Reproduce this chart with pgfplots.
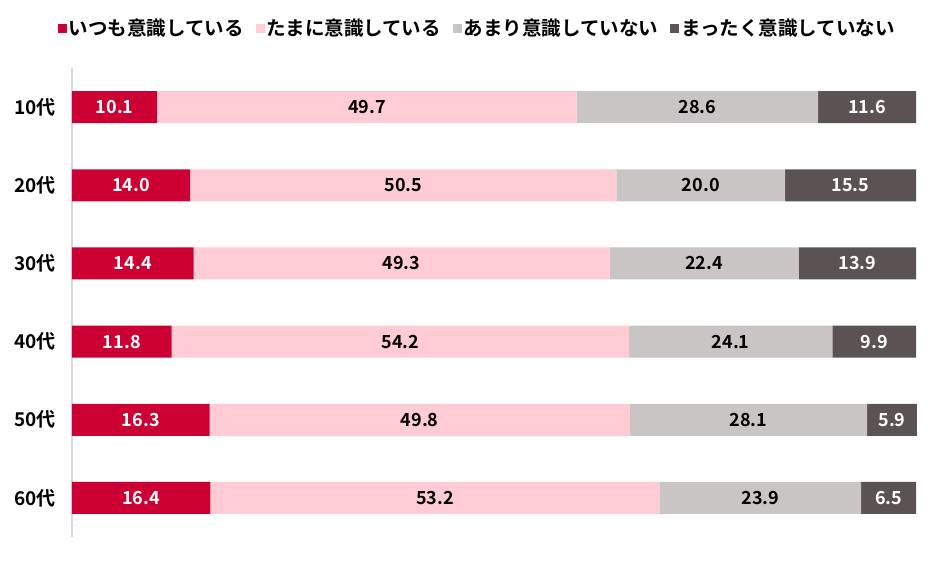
\documentclass[border=0pt]{standalone}
\usepackage{fontspec}
\setmainfont{Noto Sans CJK JP}[BoldFont={Noto Sans CJK JP Bold}]
\usepackage{pgfplots}
\usepackage{pgfplotstable}
\pgfplotsset{compat=1.18}
\definecolor{c1}{HTML}{CC0033}
\definecolor{c2}{HTML}{FFCCD5}
\definecolor{c3}{HTML}{C9C5C4}
\definecolor{c4}{HTML}{5B5353}
\definecolor{axgray}{HTML}{D9D9D9}
\pgfplotstableread{
age v1 v2 v3 v4
0 10.1 49.7 28.6 11.6
1 14.0 50.5 20.0 15.5
2 14.4 49.3 22.4 13.9
3 11.8 54.2 24.1 9.9
4 16.3 49.8 28.1 5.9
5 16.4 53.2 23.9 6.5
}\data
\begin{document}
\begin{tikzpicture}
\begin{axis}[
  at={(0,0)}, anchor=south west,
  scale only axis, width=844pt, height=469pt,
  xbar stacked, bar width=32pt,
  xmin=0, xmax=100, ymin=-0.5, ymax=5.5,
  y dir=reverse,
  axis x line=none,
  axis y line*=left,
  y axis line style={draw=axgray, line width=1.5pt},
  ytick={0,...,5},
  yticklabels={10代,20代,30代,40代,50代,60代},
  major tick length=0pt,
  yticklabel style={font=\fontsize{19}{21}\selectfont\bfseries, xshift=-13pt},
  clip=false,
  lbl/.style={nodes near coords={\pgfmathprintnumber[fixed,fixed zerofill,precision=1,assume math mode=true]{\pgfplotspointmeta}},
     point meta=explicit,
     every node near coord/.style={anchor=center, text=#1, font=\fontsize{18}{20}\selectfont\bfseries}},
  legend columns=4,
  legend style={draw=none, fill=none, at={(0.48,1.085)}, anchor=center,
     font=\fontsize{19.5}{21}\selectfont\bfseries,
     /tikz/every even column/.append style={column sep=10pt}},
  legend image code/.code={\fill[#1,draw=none] (0pt,-4.5pt) rectangle (9pt,4.5pt);},
]
\addplot[fill=c1, draw=none, lbl=white] table[x=v1, y=age, meta=v1] {\data};
\addplot[fill=c2, draw=none, lbl=black] table[x=v2, y=age, meta=v2] {\data};
\addplot[fill=c3, draw=none, lbl=black] table[x=v3, y=age, meta=v3] {\data};
\addplot[fill=c4, draw=none, lbl=white] table[x=v4, y=age, meta=v4] {\data};
\legend{いつも意識している,たまに意識している,あまり意識していない,まったく意識していない}
\end{axis}
\pgfresetboundingbox
\useasboundingbox (-72pt,-23pt) rectangle (867pt,537pt);
\end{tikzpicture}
\end{document}
